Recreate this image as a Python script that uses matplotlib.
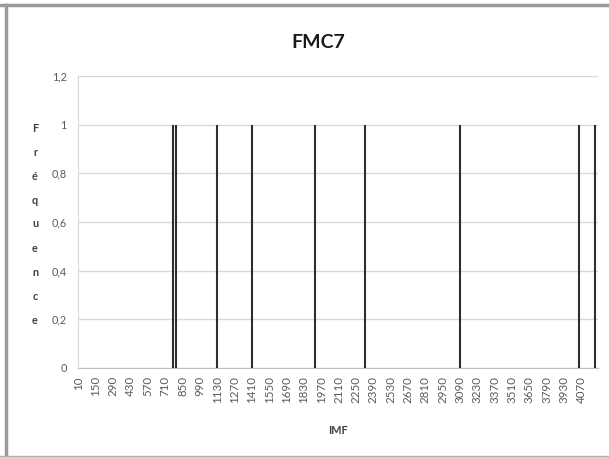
import matplotlib.pyplot as plt
from matplotlib.lines import Line2D

plt.rcParams['font.family'] = ['Lato', 'DejaVu Sans']

# IMF values that reach a frequency of 1
imf = [770, 800, 1130, 1410, 1920, 2320, 3090, 4050, 4180]
freq = [1, 1, 1, 1, 1, 1, 1, 1, 1]

# category labels shown on the x axis (every 14th category)
xtick_values = list(range(10, 4071, 140))
ytick_values = [0, 0.2, 0.4, 0.6, 0.8, 1, 1.2]
ytick_labels = ['0', '0,2', '0,4', '0,6', '0,8', '1', '1,2']

fig = plt.figure(figsize=(6.09, 4.57), dpi=100)
ax = fig.add_axes([0.128, 0.195, 0.854, 0.639])

# one-category-wide columns, drawn as thin lines
ax.vlines(imf, 0, freq, color='#2e2e2e', linewidth=1.5, zorder=3)

ax.set_xlim(5, 4205)
ax.set_ylim(0, 1.2)
ax.set_xticks(xtick_values)
ax.set_xticklabels([str(v) for v in xtick_values], rotation=90, fontsize=8.3, color='#595959')
ax.set_yticks(ytick_values)
ax.set_yticklabels(ytick_labels, fontsize=7.8, color='#595959')
ax.tick_params(axis='x', length=0, pad=6)
ax.tick_params(axis='y', length=0, pad=8)

ax.grid(axis='y', color='#d9d9d9', linewidth=1)
ax.set_axisbelow(True)
for side in ['top', 'right']:
    ax.spines[side].set_visible(False)
ax.spines['left'].set_color('#d9d9d9')
ax.spines['bottom'].set_color('#bfbfbf')

ax.set_xlabel('IMF', fontsize=7.8, fontweight='bold', color='#404040', labelpad=16)

# vertical axis title, one letter under the other
for i, ch in enumerate('Fréquence'):
    fig.text(35 / 609, 1 - (128 + 24 * i) / 457, ch, fontsize=7.8, fontweight='bold',
             color='#404040', ha='center', va='center')

fig.text(318 / 609, 1 - 42 / 457, 'FMC7', fontsize=14, fontweight='bold',
         color='#1a1a1a', ha='center', va='center')

# chart frame
fig.add_artist(Line2D([6 / 609, 6 / 609], [0, 1 - 5 / 457], color='#9a9a9a', linewidth=2.5))
fig.add_artist(Line2D([0, 1], [1 - 5 / 457, 1 - 5 / 457], color='#9a9a9a', linewidth=2.5))
fig.add_artist(Line2D([0, 1], [1.5 / 457, 1.5 / 457], color='#b0b0b0', linewidth=1))

fig.savefig('out.png', dpi=100)
